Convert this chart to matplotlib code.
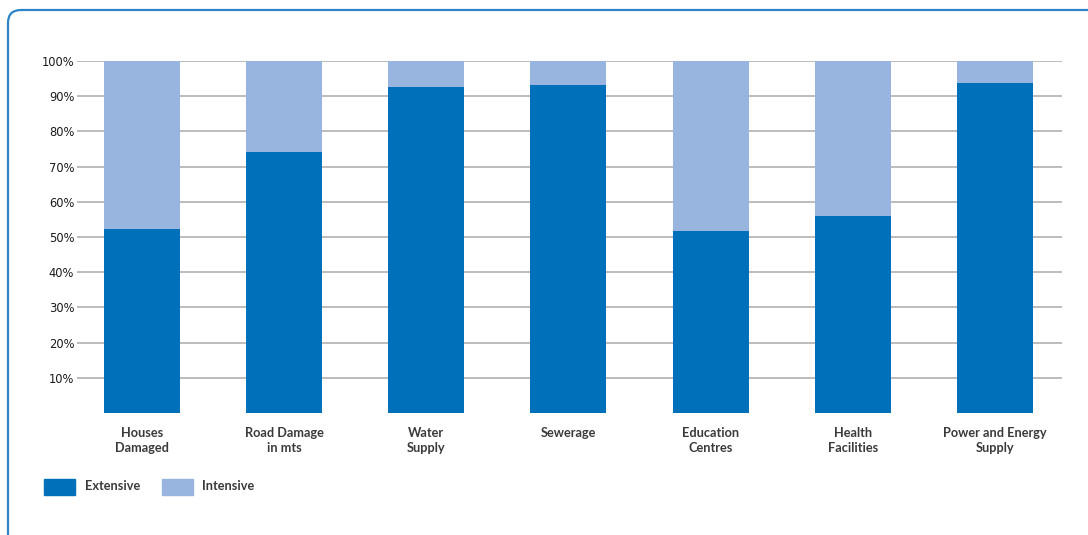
import matplotlib
matplotlib.use("Agg")
import matplotlib.pyplot as plt
from matplotlib.patches import FancyBboxPatch, Rectangle
import numpy as np

categories = ["Houses\nDamaged", "Road Damage\nin mts", "Water\nSupply", "Sewerage",
              "Education\nCentres", "Health\nFacilities", "Power and Energy\nSupply"]
extensive = [52.3, 74.2, 92.6, 93.2, 51.7, 56.0, 93.8]
intensive = [100 - v for v in extensive]
yticks = [10, 20, 30, 40, 50, 60, 70, 80, 90, 100]
ytick_labels = [f"{v}%" for v in yticks]
series_names = ["Extensive", "Intensive"]

C_EXT = "#0070BA"
C_INT = "#97B5DE"
W, H = 1088, 535
LBL = dict(fontsize=9.2, family="Lato", fontweight="bold", color="#3a3a3a")

fig = plt.figure(figsize=(W / 100, H / 100), dpi=100)
ax = fig.add_axes([77 / W, 1 - 413 / H, (1062 - 77) / W, (413 - 61) / H])

x = np.arange(len(categories))
ax.bar(x, extensive, width=0.535, color=C_EXT, zorder=3)
ax.bar(x, intensive, bottom=extensive, width=0.535, color=C_INT, zorder=3)

ax.set_xlim(-0.457, len(categories) - 1 + 0.472)
ax.set_ylim(0, 100)
ax.set_yticks(yticks)
ax.set_yticklabels(ytick_labels, fontsize=8.3, color="#1a1a1a")
ax.yaxis.grid(True, color="#b0b0b0", linewidth=1.2, zorder=0)
ax.tick_params(axis="y", length=0, pad=2)
ax.set_xticks(x)
ax.set_xticklabels(categories, linespacing=1.3, **LBL)
ax.tick_params(axis="x", length=0, pad=10)
for s in ax.spines.values():
    s.set_visible(False)

# Legend
fig.patches.append(Rectangle((44 / W, 1 - 495 / H), 31 / W, 16 / H, transform=fig.transFigure,
                             color=C_EXT, figure=fig))
fig.patches.append(Rectangle((162 / W, 1 - 495 / H), 31 / W, 16 / H, transform=fig.transFigure,
                             color=C_INT, figure=fig))
fig.text(85 / W, 1 - 486 / H, series_names[0], va="center", ha="left", **LBL)
fig.text(202 / W, 1 - 486 / H, series_names[1], va="center", ha="left", **LBL)

# Rounded border
border = FancyBboxPatch((8 / W, -0.1), 1.2, 1 - 10 / H + 0.1,
                        boxstyle="round,pad=0,rounding_size=0.012",
                        transform=fig.transFigure, fill=False, edgecolor="#2E86C8",
                        linewidth=1.6, figure=fig, mutation_aspect=W / H)
fig.patches.append(border)

fig.savefig("out.png", dpi=100)
